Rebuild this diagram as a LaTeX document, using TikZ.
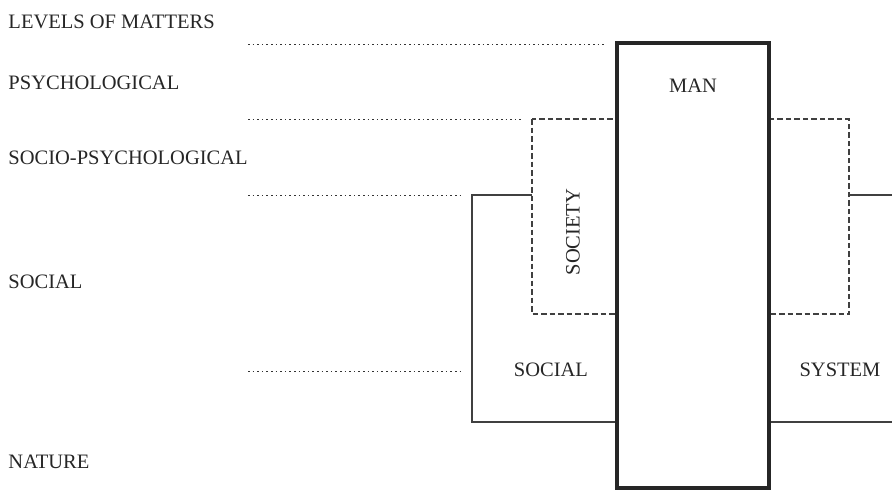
\documentclass[tikz,border=0pt]{standalone}
\usepackage{fontspec}
\setmainfont{Liberation Serif}
\usepackage{tikz}
\usetikzlibrary{positioning}

\begin{document}
\begin{tikzpicture}[x=1pt, y=-1pt, line width=1pt, font=\fontsize{20.5}{24}\selectfont]
\useasboundingbox (0,0) rectangle (892,491);
\clip (0,0) rectangle (892,491);
\tikzset{level/.style={anchor=west, inner sep=0pt, text=black!85},
         sep/.style={dash pattern=on 1.6pt off 3pt, line width=0.8pt, black!80},
         boxlbl/.style={inner sep=0pt, text=black!85}}

% levels of matters
\node[level] (levels) at (8,22) {LEVELS OF MATTERS};
\node[level] (psych) at (8,83) {PSYCHOLOGICAL};
\node[level] (sociopsych) at (8,158) {SOCIO-PSYCHOLOGICAL};
\node[level] (social) at (8,282) {SOCIAL};
\node[level] (nature) at (8,462) {NATURE};

\coordinate (d1) at (248,44);
\coordinate (d2) at (248,119);
\coordinate (d3) at (248,195);
\coordinate (d4) at (248,371);
\draw[sep] (d1) -- ++(356,0);
\draw[sep] (d2) -- ++(275,0);
\draw[sep] (d3) -- ++(214,0);
\draw[sep] (d4) -- ++(214,0);

% social system
\draw[black!75, line width=1.3pt] (472,195) rectangle (910,422);
\node[boxlbl] (soc) at (551,370) {SOCIAL};
\node[boxlbl] (sys) at (840,370) {SYSTEM};

% society
\draw[dash pattern=on 5.5pt off 3pt, black!75, line width=1.3pt, fill=white] (532,119) rectangle (849,314);
\node[boxlbl, rotate=90] (society) at (573,232) {SOCIETY};

% man
\draw[line width=3.6pt, black!85, fill=white] (617,43) rectangle (769,488);
\node[boxlbl] (man) at (693,86) {MAN};
\end{tikzpicture}
\end{document}
